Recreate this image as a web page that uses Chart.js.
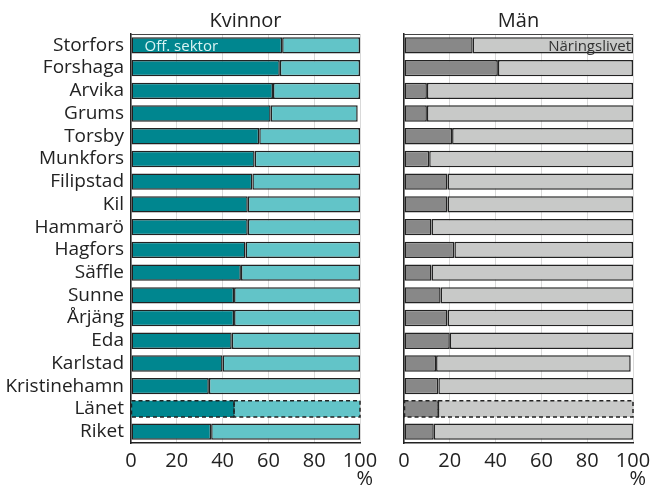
<!DOCTYPE html>
<html>
<head>
<meta charset="utf-8">
<script src="https://cdn.jsdelivr.net/npm/chart.js@4/dist/chart.umd.min.js"></script>
<style>
  body { margin: 0; background: #fff; overflow: hidden; }
  #wrap { position: relative; width: 651px; height: 486px; overflow: hidden; }
  #left { position: absolute; left: 0; top: 0; }
  #right { position: absolute; left: 385px; top: 0; }
</style>
</head>
<body>
<div id="wrap">
  <canvas id="left" width="385" height="486" style="width:385px;height:486px"></canvas>
  <canvas id="right" width="290" height="486" style="width:290px;height:486px"></canvas>
</div>
<script>
const kommuner = ['Storfors', 'Forshaga', 'Arvika', 'Grums', 'Torsby', 'Munkfors', 'Filipstad', 'Kil',
  'Hammarö', 'Hagfors', 'Säffle', 'Sunne', 'Årjäng', 'Eda', 'Karlstad', 'Kristinehamn', 'Länet', 'Riket'];
const kvinnorOff = [66, 65, 62, 61, 56, 54, 53, 51, 51, 50, 48, 45, 45, 44, 40, 34, 45, 35];
const kvinnorNar = [34, 35, 38, 38, 44, 46, 47, 49, 49, 50, 52, 55, 55, 56, 60, 66, 55, 65];
const manOff = [30, 41, 10, 10, 21, 11, 19, 19, 12, 22, 12, 16, 19, 20, 14, 15, 15, 13];
const manNar = [70, 59, 90, 90, 79, 89, 81, 81, 88, 78, 88, 84, 81, 80, 85, 85, 85, 87];
const xTicks = [0, 20, 40, 60, 80, 100];
const dashedRow = 'Länet';

const FONT = "'Open Sans', 'Noto Sans', sans-serif";
const dashIdx = kommuner.indexOf(dashedRow);

const bw = ctx => ctx.dataIndex === dashIdx ? 0 : 1.5;

const panelPlugin = {
  id: 'panel',
  afterDatasetsDraw(chart, args, opts) {
    const c = chart.ctx, area = chart.chartArea;
    c.save();
    // dashed outline for Länet
    c.strokeStyle = '#222';
    c.lineWidth = 1.5;
    c.setLineDash([4, 3]);
    chart.data.datasets.forEach((ds, i) => {
      const el = chart.getDatasetMeta(i).data[dashIdx];
      const p = el.getProps(['x', 'y', 'base', 'height'], true);
      c.strokeRect(Math.min(p.base, p.x), p.y - p.height / 2, Math.abs(p.x - p.base), p.height);
    });
    c.setLineDash([]);
    // top frame line
    c.strokeStyle = '#444';
    c.lineWidth = 1;
    c.beginPath();
    c.moveTo(area.left, area.top + 0.5);
    c.lineTo(area.right, area.top + 0.5);
    c.stroke();
    // panel title
    c.fillStyle = '#222';
    c.font = '20px ' + FONT;
    c.textAlign = 'center';
    c.textBaseline = 'alphabetic';
    c.fillText(opts.title, (area.left + area.right) / 2, 27);
    // unit under the last tick
    c.textAlign = 'right';
    c.textBaseline = 'middle';
    c.fillText('%', area.right + 13, 479);
    // label inside first bar
    const el = chart.getDatasetMeta(opts.labelSet).data[0];
    const p = el.getProps(['x', 'y', 'base'], true);
    c.font = '15px ' + FONT;
    c.fillStyle = opts.labelColor;
    if (opts.labelAlign === 'left') {
      c.textAlign = 'left';
      c.fillText(opts.label, p.base + 13, p.y + 1);
    } else {
      c.textAlign = 'right';
      c.fillText(opts.label, p.x - 2, p.y + 1);
    }
    c.restore();
  }
};

function makeChart(id, off, nar, offColor, narColor, showLabels, yWidth, rightPad, opts) {
  return new Chart(document.getElementById(id), {
    type: 'bar',
    data: {
      labels: kommuner,
      datasets: [
        { label: 'Off. sektor', data: off, backgroundColor: offColor, borderColor: '#222', borderWidth: bw, borderSkipped: false },
        { label: 'Näringslivet', data: nar, backgroundColor: narColor, borderColor: '#222', borderWidth: bw, borderSkipped: false }
      ]
    },
    options: {
      indexAxis: 'y',
      responsive: false,
      animation: false,
      layout: { padding: { top: 34, right: rightPad, bottom: 0, left: 0 } },
      categoryPercentage: 0.72,
      barPercentage: 1,
      plugins: { legend: { display: false }, tooltip: { enabled: false }, panel: opts },
      scales: {
        x: {
          stacked: true, min: 0, max: 100,
          afterBuildTicks: s => { s.ticks = xTicks.map(v => ({ value: v })); },
          afterFit: s => { s.height = 43; },
          grid: { color: '#d9d9d9', lineWidth: 1, drawTicks: false },
          border: { display: true, color: '#222', width: 1.5 },
          ticks: { color: '#222', font: { family: FONT, size: 20 }, padding: 6, maxRotation: 0 }
        },
        y: {
          stacked: true,
          afterFit: s => { s.width = yWidth; },
          grid: { display: false, drawTicks: false, tickLength: 0 },
          border: { display: true, color: '#222', width: 1.5 },
          ticks: { display: showLabels, color: '#222', font: { family: FONT, size: 19 }, padding: 7, autoSkip: false }
        }
      }
    },
    plugins: [panelPlugin]
  });
}

makeChart('left', kvinnorOff, kvinnorNar, '#00868f', '#62c4c8', true, 131, 25,
  { title: 'Kvinnor', label: 'Off. sektor', labelSet: 0, labelAlign: 'left', labelColor: '#d9f3f3' });
makeChart('right', manOff, manNar, '#888888', '#c8c9c8', false, 19, 42,
  { title: 'Män', label: 'Näringslivet', labelSet: 1, labelAlign: 'right', labelColor: '#333' });
</script>
</body>
</html>
